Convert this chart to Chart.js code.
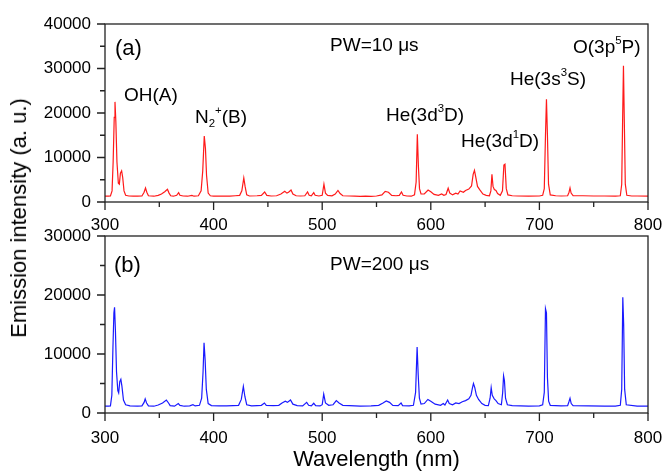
<!DOCTYPE html>
<html lang="en">
<head>
<meta charset="utf-8">
<title>Emission spectra</title>
<script src="https://cdn.jsdelivr.net/npm/chart.js@4.4.0/dist/chart.umd.min.js"></script>
<style>
    body {
        margin: 0;
        background: #fff;
        width: 663px;
        height: 472px;
        overflow: hidden;
        position: relative;
        font-family: "Liberation Sans", Arial, sans-serif;
        color: #000;
    }
    .panel { position: absolute; left: 0; width: 663px; }
    #boxA { top: 0; height: 232px; }
    #boxB { top: 220px; height: 252px; }
    #ytitle {
        position: absolute;
        left: 19px;
        top: 218px;
        transform: translate(-50%, -50%) rotate(-90deg);
        white-space: nowrap;
        font-size: 22px;
        line-height: 22px;
    }
    #xtitle {
        position: absolute;
        left: 105px;
        width: 543px;
        top: 448px;
        text-align: center;
        font-size: 22px;
        line-height: 22px;
    }
</style>
</head>
<body>
<div class="panel" id="boxA"><canvas id="chartA"></canvas></div>
<div class="panel" id="boxB"><canvas id="chartB"></canvas></div>
<div id="ytitle">Emission intensity (a. u.)</div>
<div id="xtitle">Wavelength (nm)</div>

<script>
const FONT = '"Liberation Sans", Arial, sans-serif';

// (a) PW=10 us, red spectrum
const waveA = [300,303,305,306.5,307.5,308.5,309.2,310,311,312.3,313.2,314.2,315.3,316.3,317.5,319,322,326,330,334,336,337.3,338.5,340,345,349,352,355,357.5,359,360.5,363,366,367.8,369,372,376,380,382,386,388.5,390,391.4,392.5,393.5,395,397,400,405,410,415,420,424,426,427.8,429,430.5,433,440,444,447,449,453,458,462,465.5,467.5,469,471.3,473,476,480,484,486.5,488,490,492.2,493.5,497,500,501.6,503,505,509,512,514.5,516.5,519,525,530,535,540,545,550,555,558,561,564,568,571,573,574.5,578,582,585,586.5,587.6,588.6,589.6,591,594,597.5,600,603,607,610,612,614,616,617.5,620,623,625,627,630,632,635,637.5,639,640.2,641.5,643,645,648,651,654,655.3,656.3,657.3,658.5,660,661.5,664,666,667.3,668.3,669.5,671,675,680,690,700,703,704.5,705.6,706.5,707.4,708.4,710,715,720,726,727.3,728.2,729.2,731,740,750,760,770,774.5,775.8,776.6,777.4,778.2,779.1,780.5,785,790,800];
const intenA = [1300,1300,1350,2500,9000,19000,22500,18000,9000,4200,4000,6500,7000,5500,2500,1500,1350,1300,1300,1350,2200,3150,2200,1400,1300,1500,1800,2300,2850,2000,1400,1300,1500,2100,1500,1350,1300,1500,1300,1400,2500,7000,14800,12000,6000,2000,1400,1300,1300,1350,1300,1400,1500,2500,5400,3500,1600,1350,1400,1500,2250,1500,1350,1400,1800,2400,2000,2200,2700,1800,1400,1350,1400,2250,1500,1400,2100,1500,1350,1500,4000,2000,1500,1400,1800,2600,1900,1400,1350,1300,1250,1300,1250,1350,1600,2400,2200,1500,1400,1500,2250,1500,1350,1300,1600,4500,15200,8000,3000,1800,1800,2700,2300,1700,1500,1800,1500,1700,3100,2000,1600,2000,1800,2500,2200,2600,2900,3600,6200,7100,5500,3500,2800,1800,1500,1400,2500,6200,3500,2800,2600,1900,1500,2500,8300,8500,3000,1600,1400,1350,1300,1350,1500,3000,15000,23100,15000,4000,1600,1400,1350,1400,2200,3150,2000,1450,1400,1350,1350,1300,1400,4000,18000,30600,18000,4000,1500,1350,1350,1300];

// (b) PW=200 us, blue spectrum
const waveB = [300,303,305,306.3,307.3,308.2,308.8,309.6,310.6,311.8,312.6,313.6,314.6,315.6,317,319,323,330,334,336,337,338.3,340,345,349,353,356.5,358.5,360,364,367.5,369,373,378,381,383,387,389,390.3,391.2,392.2,393.3,395,398,405,412,418,423,425.5,427.4,428.8,430.5,435,440,444,446.8,448.5,455,460,463,466,468,470.8,473,477,482,485.7,487.5,490,492.2,494,498,500,501.4,503,506,510,513,515.5,519,525,535,545,552,556,559,562,565,570,572.6,574,580,584,586,587.4,588.4,589.5,591,594,597.3,600,604,609,611.5,613,615.5,617,620,623,626,629,632,635,637,638.3,639.3,640.5,642,644,647,650,653,654.6,655.6,656.6,658.4,660,662,665,666.2,667,667.8,668.8,670.5,675,690,700,703,704.5,705.6,706.5,707.4,708.5,710,720,726,727.2,728.2,729.3,731,745,760,770,774.5,775.8,776.8,777.6,778.5,780,790,800];
const intenB = [1150,1150,1200,3000,11000,17000,17900,14000,7000,3800,3400,5300,5700,4500,2200,1400,1200,1150,1200,1800,2400,1700,1200,1150,1350,1700,2200,1700,1250,1150,1600,1300,1150,1200,1400,1200,1300,2500,7000,11900,9000,4000,1600,1250,1200,1200,1250,1300,2300,4500,2800,1400,1200,1250,1300,1700,1300,1250,1300,1700,2000,1800,2200,1500,1250,1200,1800,1300,1200,1650,1250,1200,1400,3200,1700,1300,1400,2100,1700,1300,1250,1150,1200,1300,1700,2050,1800,1300,1250,1700,1250,1200,1300,3500,11200,6500,2500,1500,1600,2300,2000,1500,1300,1600,1350,2200,1600,1400,1700,1600,1900,2100,2400,3000,4200,5000,4300,3000,2300,1600,1300,1250,2500,4300,3000,2400,2100,1600,1400,3500,6300,5500,2500,1400,1250,1150,1200,1400,3500,17700,17000,6000,2000,1300,1200,1250,1900,2500,1600,1250,1200,1150,1150,1300,4000,19600,15000,4000,1400,1150,1150];

const xTicks = [300, 400, 500, 600, 700, 800];
const xMinor = [350, 450, 550, 650, 750];
const yTicksA = [0, 10000, 20000, 30000, 40000];
const yMinorA = [5000, 15000, 25000, 35000];
const yTicksB = [0, 10000, 20000, 30000];
const yMinorB = [5000, 15000, 25000];

// labels placed in data units: [wavelength of left edge, intensity of text middle]
const notesA = [
    { x: 309.2, y: 34400, size: 22, parts: [["(a)"]] },
    { x: 317.5, y: 23800, size: 19, parts: [["OH(A)"]] },
    { x: 382.9, y: 18900, size: 19, parts: [["N"], ["2", "sub"], ["+", "sup"], ["(B)"]] },
    { x: 507.2, y: 35200, size: 19, parts: [["PW=10 μs"]] },
    { x: 558.7, y: 19300, size: 19, parts: [["He(3d"], ["3", "sup"], ["D)"]] },
    { x: 627.8, y: 13460, size: 19, parts: [["He(3d"], ["1", "sup"], ["D)"]] },
    { x: 672.9, y: 27440, size: 19, parts: [["He(3s"], ["3", "sup"], ["S)"]] },
    { x: 730.9, y: 34660, size: 19, parts: [["O(3p"], ["5", "sup"], ["P)"]] }
];
const notesB = [
    { x: 308.3, y: 24900, size: 22, parts: [["(b)"]] },
    { x: 507.2, y: 25100, size: 19, parts: [["PW=200 μs"]] }
];

function drawNote(ctx, px, py, note) {
    ctx.textAlign = "left";
    ctx.textBaseline = "middle";
    ctx.fillStyle = "#000";
    let cx = px;
    note.parts.forEach(([t, mode]) => {
        let size = note.size, dy = 0;
        if (mode === "sup") { size = note.size * 0.6; dy = -note.size * 0.36; }
        if (mode === "sub") { size = note.size * 0.6; dy = note.size * 0.3; }
        ctx.font = size + "px " + FONT;
        ctx.fillText(t, cx, py + dy);
        cx += ctx.measureText(t).width;
    });
}

// box around the plot, outward ticks, and the text labels
const framePlugin = {
    id: "frame",
    afterDraw(chart, args, opts) {
        const { ctx, chartArea: a, scales: { x, y } } = chart;
        ctx.save();
        ctx.strokeStyle = "#222";
        ctx.lineWidth = 1.3;
        ctx.strokeRect(a.left, a.top, a.right - a.left, a.bottom - a.top);
        ctx.beginPath();
        xTicks.forEach(v => { const p = x.getPixelForValue(v); ctx.moveTo(p, a.bottom); ctx.lineTo(p, a.bottom + 8); });
        xMinor.forEach(v => { const p = x.getPixelForValue(v); ctx.moveTo(p, a.bottom); ctx.lineTo(p, a.bottom + 5); });
        opts.yMajor.forEach(v => { const p = y.getPixelForValue(v); ctx.moveTo(a.left, p); ctx.lineTo(a.left - 8, p); });
        opts.yMinor.forEach(v => { const p = y.getPixelForValue(v); ctx.moveTo(a.left, p); ctx.lineTo(a.left - 5, p); });
        ctx.stroke();
        opts.notes.forEach(n => drawNote(ctx, x.getPixelForValue(n.x), y.getPixelForValue(n.y), n));
        ctx.restore();
    }
};

function makeChart(id, wave, inten, color, yMax, yMajor, yMinor, notes, xAxisH, padTop, xPad) {
    return new Chart(document.getElementById(id), {
        type: "line",
        data: {
            datasets: [{
                data: wave.map((w, i) => ({ x: w, y: inten[i] })),
                borderColor: color,
                borderWidth: 1.2,
                pointRadius: 0,
                tension: 0,
                fill: false
            }]
        },
        plugins: [framePlugin],
        options: {
            responsive: true,
            maintainAspectRatio: false,
            animation: false,
            events: [],
            layout: { padding: { top: padTop, right: 15, left: 0, bottom: 0 } },
            plugins: {
                legend: { display: false },
                tooltip: { enabled: false },
                frame: { yMajor: yMajor, yMinor: yMinor, notes: notes }
            },
            scales: {
                x: {
                    type: "linear",
                    min: 300,
                    max: 800,
                    afterFit: s => { s.height = xAxisH; s.paddingLeft = 0; s.paddingRight = 0; },
                    afterBuildTicks: s => { s.ticks = xTicks.map(v => ({ value: v })); },
                    grid: { display: false, drawTicks: true, tickLength: 8 },
                    border: { display: false },
                    ticks: { padding: xPad, color: "#000", maxRotation: 0, autoSkip: false, font: { size: 17, family: FONT } }
                },
                y: {
                    min: 0,
                    max: yMax,
                    afterFit: s => { s.width = 105; s.paddingTop = 0; s.paddingBottom = 0; },
                    afterBuildTicks: s => { s.ticks = yMajor.map(v => ({ value: v })); },
                    grid: { display: false, drawTicks: true, tickLength: 8 },
                    border: { display: false },
                    ticks: { padding: 6, color: "#000", font: { size: 17, family: FONT }, callback: v => String(v) }
                }
            }
        }
    });
}

makeChart("chartA", waveA, intenA, "#ff1a1a", 40000, yTicksA, yMinorA, notesA, 30, 24, 5);
makeChart("chartB", waveB, intenB, "#1a1aff", 30000, yTicksB, yMinorB, notesB, 59, 16, 7);
</script>
</body>
</html>
